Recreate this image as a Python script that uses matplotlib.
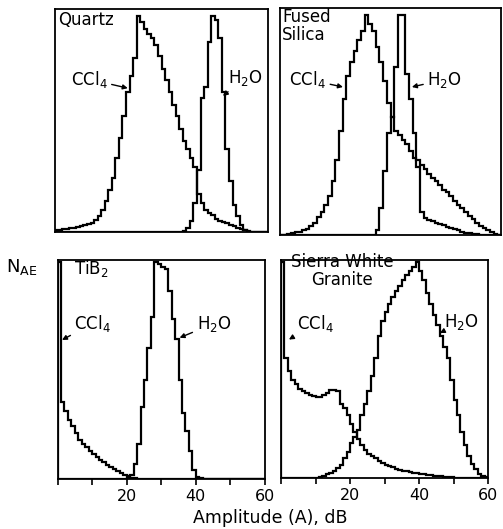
import matplotlib
matplotlib.use("Agg")
import matplotlib.pyplot as plt
import numpy as np

# amplitude bin edges, dB (1 dB bins, 0..60)
edges = list(range(0, 61))

# normalised N_AE per 1 dB bin (fraction of panel height)
quartz_ccl4 = [0.01, 0.01, 0.012, 0.015, 0.018, 0.02, 0.022, 0.025, 0.03, 0.035,
               0.04, 0.055, 0.07, 0.10, 0.14, 0.19, 0.24, 0.33, 0.42, 0.52,
               0.63, 0.70, 0.78, 0.97, 0.94, 0.91, 0.89, 0.87, 0.84, 0.79,
               0.73, 0.68, 0.63, 0.57, 0.52, 0.46, 0.41, 0.37, 0.33, 0.29,
               0.17, 0.13, 0.10, 0.085, 0.075, 0.06, 0.05, 0.045, 0.04, 0.03,
               0.025, 0.02, 0.012, 0.008, 0.004, 0, 0, 0, 0, 0]
quartz_h2o = [0] * 36 + [0.005, 0.02, 0.05, 0.13, 0.28, 0.60, 0.65, 0.85, 0.97,
                         0.95, 0.87, 0.63, 0.37, 0.23, 0.12, 0.07, 0.03, 0.01,
                         0, 0, 0, 0, 0, 0]

silica_ccl4 = [0, 0, 0.005, 0.01, 0.012, 0.015, 0.02, 0.025, 0.04, 0.055,
               0.08, 0.10, 0.13, 0.17, 0.24, 0.33, 0.46, 0.60, 0.70, 0.76,
               0.81, 0.86, 0.90, 0.97, 0.93, 0.90, 0.83, 0.76, 0.68, 0.58,
               0.52, 0.46, 0.44, 0.42, 0.40, 0.37, 0.34, 0.33, 0.31, 0.29,
               0.27, 0.25, 0.24, 0.22, 0.20, 0.19, 0.17, 0.15, 0.13, 0.12,
               0.10, 0.085, 0.07, 0.055, 0.04, 0.03, 0.02, 0.012, 0.005, 0]
silica_h2o = [0] * 26 + [0.02, 0.12, 0.28, 0.45, 0.52, 0.74, 0.97, 0.97, 0.71,
                         0.60, 0.45, 0.30, 0.10, 0.075, 0.068, 0.062, 0.055,
                         0.048, 0.042, 0.036, 0.03, 0.025, 0.02, 0.015, 0.01,
                         0.008, 0.005, 0.003, 0, 0, 0, 0, 0, 0]

tib2_ccl4 = [0.99, 0.35, 0.31, 0.27, 0.24, 0.21, 0.18, 0.16, 0.145, 0.13,
             0.115, 0.10, 0.088, 0.077, 0.066, 0.055, 0.045, 0.036, 0.028, 0.02,
             0.012, 0.006, 0.003, 0.002, 0.001] + [0] * 35
tib2_h2o = [0] * 20 + [0.005, 0.02, 0.07, 0.16, 0.33, 0.45, 0.60, 0.74, 0.99,
                       0.98, 0.97, 0.96, 0.86, 0.73, 0.64, 0.45, 0.30, 0.22,
                       0.13, 0.04, 0.01, 0.005] + [0] * 18

granite_ccl4 = [0.99, 0.55, 0.49, 0.45, 0.43, 0.41, 0.40, 0.39, 0.38, 0.375,
                0.37, 0.37, 0.38, 0.39, 0.405, 0.405, 0.40, 0.34, 0.32, 0.29,
                0.25, 0.21, 0.18, 0.15, 0.13, 0.11, 0.10, 0.09, 0.08, 0.07,
                0.06, 0.055, 0.05, 0.043, 0.037, 0.033, 0.03, 0.027, 0.024, 0.022,
                0.02, 0.018, 0.015, 0.013, 0.011, 0.01, 0.008, 0.006, 0.005, 0.003,
                0.002] + [0] * 9
granite_h2o = [0] * 11 + [0.005, 0.01, 0.02, 0.025, 0.03, 0.045, 0.06, 0.09, 0.12,
                          0.16, 0.19, 0.22, 0.29, 0.34, 0.40, 0.47, 0.55, 0.65,
                          0.72, 0.76, 0.80, 0.83, 0.86, 0.88, 0.91, 0.93, 0.95,
                          0.97, 0.99, 0.95, 0.91, 0.85, 0.80, 0.75, 0.70, 0.65,
                          0.60, 0.55, 0.45, 0.36, 0.29, 0.21, 0.15, 0.10, 0.065,
                          0.04, 0.02, 0.008, 0.003]

tick_positions = [0, 10, 20, 30, 40, 50, 60]
tick_labels = ["", "", "20", "", "40", "", "60"]

W, H = 503, 529
fig = plt.figure(figsize=(W / 100, H / 100), dpi=100)


def px_axes(x0, y0, x1, y1):
    return fig.add_axes([x0 / W, 1 - y1 / H, (x1 - x0) / W, (y1 - y0) / H])


FS = 12
lw_curve = 1.6

panels = [
    dict(frame=(55, 9, 268, 232), c=quartz_ccl4, h=quartz_h2o,
         title="Quartz", tpos=(0.8, 0.99), tha="left",
         ctext=(14.8, 0.685), ctip=(20.5, 0.645), cha="right",
         htext=(48.6, 0.69), htip=(47.3, 0.61), hha="left", bottom=False),
    dict(frame=(280, 8, 501, 235), c=silica_ccl4, h=silica_h2o,
         title="Fused\nSilica", tpos=(0.6, 1.0), tha="left",
         ctext=(12.5, 0.685), ctip=(17.1, 0.652), cha="right",
         htext=(40.0, 0.685), htip=(35.8, 0.652), hha="left", bottom=False),
    dict(frame=(57.5, 260, 265, 479), c=tib2_ccl4, h=tib2_h2o,
         title="TiB$_2$", tpos=(4.9, 1.01), tha="left",
         ctext=(4.9, 0.71), ctip=(1.3, 0.635), cha="left",
         htext=(40.2, 0.71), htip=(35.3, 0.645), hha="left", bottom=True),
    dict(frame=(281, 260, 488, 478), c=granite_ccl4, h=granite_h2o,
         title="Sierra White\nGranite", tpos=(17.7, 1.03), tha="center",
         ctext=(4.7, 0.71), ctip=(2.3, 0.635), cha="left",
         htext=(47.2, 0.715), htip=(46.05, 0.665), hha="left", bottom=True),
]

for p in panels:
    ax = px_axes(*p["frame"])
    ax.stairs(p["c"], edges, baseline=0, color="black", lw=lw_curve)
    ax.stairs(p["h"], edges, baseline=0, color="black", lw=lw_curve)
    ax.set_xlim(0, 60)
    ax.set_ylim(0, 1.0)
    for s in ax.spines.values():
        s.set_linewidth(1.3)
    ax.set_yticks([])
    if p["bottom"]:
        ax.set_xticks(tick_positions)
        ax.set_xticklabels(tick_labels, fontsize=FS - 0.5)
        ax.tick_params(axis="x", direction="out", length=4, width=1.2, pad=3)
    else:
        ax.set_xticks([])
    ax.text(p["tpos"][0], p["tpos"][1], p["title"], ha=p["tha"], va="top",
            fontsize=FS, linespacing=1.0,
            multialignment="center" if p["tha"] == "center" else "left")
    arrow = dict(arrowstyle="-|>", color="black", lw=1.0, mutation_scale=7,
                 shrinkA=1, shrinkB=0)
    ax.annotate("CCl$_4$", xy=p["ctip"], xytext=p["ctext"], ha=p["cha"], va="center",
                fontsize=FS, arrowprops=arrow)
    ax.annotate("H$_2$O", xy=p["htip"], xytext=p["htext"], ha=p["hha"], va="center",
                fontsize=FS, arrowprops=arrow)

fig.text(22 / W, 1 - 267 / H, "N$_{\\mathrm{AE}}$", ha="center", va="center", fontsize=FS + 1)
fig.text(270 / W, 1 - 518 / H, "Amplitude (A), dB", ha="center", va="center", fontsize=FS + 0.5)

fig.savefig("out.png", dpi=100)
